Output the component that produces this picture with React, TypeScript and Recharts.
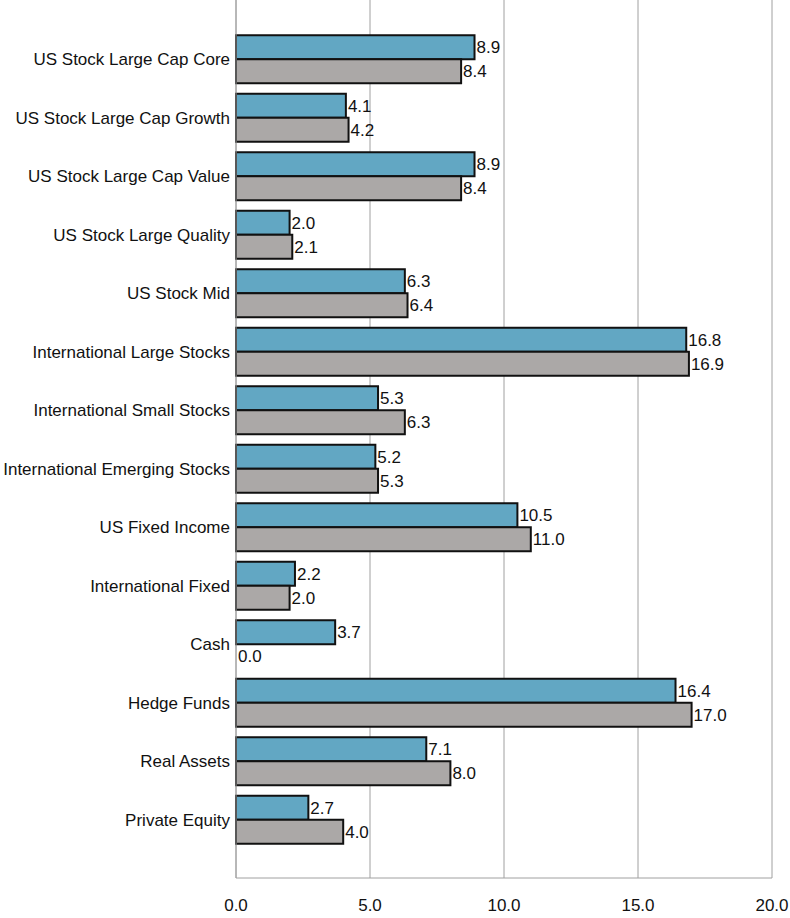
import React from 'react';
import { BarChart, Bar, XAxis, YAxis, CartesianGrid, Rectangle } from 'recharts';

const categories = [
  'US Stock Large Cap Core',
  'US Stock Large Cap Growth',
  'US Stock Large Cap Value',
  'US Stock Large Quality',
  'US Stock Mid',
  'International Large Stocks',
  'International Small Stocks',
  'International Emerging Stocks',
  'US Fixed Income',
  'International Fixed',
  'Cash',
  'Hedge Funds',
  'Real Assets',
  'Private Equity',
];

const seriesA = [8.9, 4.1, 8.9, 2.0, 6.3, 16.8, 5.3, 5.2, 10.5, 2.2, 3.7, 16.4, 7.1, 2.7];
const seriesB = [8.4, 4.2, 8.4, 2.1, 6.4, 16.9, 6.3, 5.3, 11.0, 2.0, 0.0, 17.0, 8.0, 4.0];

const xTicks = [0, 5, 10, 15, 20];

const data = categories.map((name, i) => ({ name, a: seriesA[i], b: seriesB[i] }));

const FONT = '"Liberation Sans", Arial, sans-serif';
const TEXT = '#111';
const fmt = (v: any) => Number(v).toFixed(1);

// bar + value label in one shape, so the zero-width Cash bar still gets "0.0"
const makeShape = (key: 'a' | 'b') => (props: any) => {
  const { x, y, width, height, payload } = props;
  const v = payload ? payload[key] : props.value;
  const w = Number(width) || 0;
  return (
    <g>
      {w > 0 && <Rectangle {...props} />}
      <text
        x={Number(x) + w + 2}
        y={Number(y) + Number(height) / 2}
        dy="0.36em"
        fontSize={17}
        fill={TEXT}
        fontFamily={FONT}
      >
        {fmt(v)}
      </text>
    </g>
  );
};

export default function App() {
  return (
    <div style={{ position: 'absolute', left: 0, top: 0, width: 790, height: 918, background: '#fff' }}>
      <BarChart
        width={790}
        height={918}
        data={data}
        layout="vertical"
        margin={{ top: 0, right: 18, left: 0, bottom: 0 }}
        barCategoryGap="9%"
        barGap={0}
      >
        <CartesianGrid horizontal={false} vertical stroke="#a0a0a0" strokeWidth={1} />
        <XAxis
          type="number"
          domain={[0, 20]}
          ticks={xTicks}
          tickFormatter={fmt}
          axisLine={{ stroke: '#a0a0a0' }}
          tickLine={false}
          tickMargin={15}
          height={40}
          tick={{ fontSize: 17, fill: TEXT, fontFamily: FONT }}
        />
        <YAxis
          type="category"
          dataKey="name"
          width={236}
          axisLine={{ stroke: '#a0a0a0' }}
          tickLine={false}
          tickMargin={0}
          interval={0}
          padding={{ top: 30, bottom: 29 }}
          tick={{ fontSize: 17, fill: TEXT, fontFamily: FONT }}
        />
        <Bar
          dataKey="a"
          fill="#62a7c3"
          stroke="#111"
          strokeWidth={2}
          isAnimationActive={false}
          shape={makeShape('a')}
        />
        <Bar
          dataKey="b"
          fill="#aba8a7"
          stroke="#111"
          strokeWidth={2}
          isAnimationActive={false}
          shape={makeShape('b')}
        />
      </BarChart>
    </div>
  );
}
